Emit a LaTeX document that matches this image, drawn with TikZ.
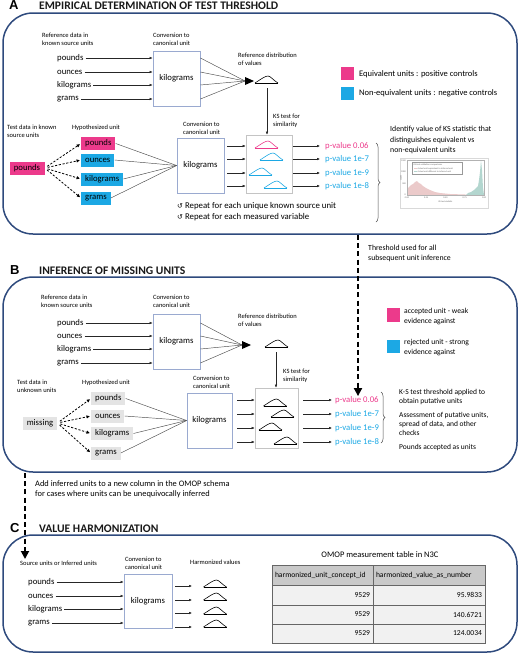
\documentclass[tikz,border=0pt]{standalone}
\usepackage{fontspec}
\setmainfont{Carlito}
\newfontfamily\symfont{DejaVu Sans}
\newfontfamily\arialb{Liberation Sans}
\usetikzlibrary{arrows.meta,decorations.pathreplacing}
\definecolor{navy}{HTML}{2E4A7D}
\definecolor{pinkc}{HTML}{EC3A8B}
\definecolor{cyanc}{HTML}{1CA8E4}
\definecolor{kgb}{HTML}{9AAAD0}
\definecolor{ksb}{HTML}{C4C4C4}
\definecolor{grayf}{HTML}{E4E4E4}
\definecolor{thead}{HTML}{C9C9C9}
\definecolor{trow}{HTML}{F1F1F1}
\definecolor{histpink}{HTML}{EBCACA}
\definecolor{histteal}{HTML}{B3D6CF}
\tikzset{
  dist/.pic={
    \draw[line width=0.6pt] (-11.5,0) -- (11.5,0);
    \draw[line width=0.6pt, line join=round] (-11.5,0) .. controls (-6,-3.5) and (-1.5,-7) .. (1.5,-7) .. controls (4,-7) and (7,-2.5) .. (11.5,0);
  }
}
\begin{document}
\begin{tikzpicture}[x=1pt,y=-1pt,
  panel/.style={draw=navy,line width=1.5pt,rounded corners=30pt},
  ttl/.style={font=\fontsize{11.6}{12}\selectfont\bfseries, anchor=base west, inner sep=0pt, text=black!90},
  letter/.style={font=\fontsize{13}{13}\arialb\bfseries, anchor=base west, inner sep=0pt},
  sm/.style={font=\fontsize{6.5}{8}\selectfont, align=left, anchor=north west, inner sep=0pt},
  unitlbl/.style={font=\fontsize{8.7}{10}\selectfont, anchor=west, inner sep=1pt},
  kgbox/.style={draw=kgb, line width=0.8pt, fill=white, font=\fontsize{8.7}{10}\selectfont, inner sep=0pt},
  ksbox/.style={draw=ksb, line width=0.6pt, fill=white, inner sep=0pt},
  ubox/.style={font=\fontsize{8.7}{10}\selectfont, anchor=west, inner xsep=4pt, inner ysep=0pt, minimum height=13pt},
  arr/.style={-{Latex[length=3pt,width=2.6pt]}, line width=0.45pt, draw=black!85},
  cline/.style={line width=0.45pt, draw=black!70},
  dsh/.style={line width=0.8pt, dash pattern=on 2.2pt off 1.6pt, -{Latex[length=3.5pt,width=3.5pt]}},
  bigdash/.style={line width=1.8pt, dash pattern=on 5pt off 3.2pt, -{Triangle[length=8pt,width=8pt]}},
  pv/.style={font=\fontsize{8.7}{10}\selectfont, anchor=west, inner sep=0pt},
  note/.style={font=\fontsize{7.6}{9.4}\selectfont, align=left, anchor=north west, inner sep=0pt},
  leg/.style={font=\fontsize{8.4}{10}\selectfont, align=left, anchor=north west, inner sep=0pt},
  sq/.style={minimum width=13pt, minimum height=13pt, inner sep=0pt},
  cell/.style={draw=black!60, line width=0.7pt, font=\fontsize{7.6}{9}\selectfont, inner xsep=3pt, inner ysep=0pt},
  tiny/.style={font=\fontsize{2.3}{2.7}\selectfont, inner sep=0pt, text=black!60},
  brc/.style={decorate, decoration={brace, amplitude=4pt}, line width=0.5pt, draw=black!70}
]
\useasboundingbox (0,0) rectangle (520,654);

% ================= PANEL A =================
\draw[panel] (3,13) rectangle (517,234);
\node[letter] (lA) at (9,9.5) {A};
\node[ttl] (tA) at (39,9.5) {EMPIRICAL DETERMINATION OF TEST THRESHOLD};

\node[sm] (refAl) at (42,33) {Reference data in\\known source units};
\node[sm] (cvAl) at (153,33) {Conversion to\\canonical unit};
\node[kgbox, minimum width=47pt, minimum height=55pt] (kgA) at (176.5,78.5) {kilograms};
\node[unitlbl] (pA) at (56,58) {pounds};
\node[unitlbl] (oA) at (56,72) {ounces};
\node[unitlbl] (kA) at (56,85) {kilograms};
\node[unitlbl] (gA) at (56,99) {grams};
\foreach \n in {pA,oA,kA,gA} \draw[arr, shorten <=1pt] (\n.east) -- (\n.east -| kgA.west);
\coordinate (cvA) at (245,81);
\coordinate (tipA) at (254,81);
\foreach \n in {pA,oA,kA,gA} \draw[cline] (kgA.east |- \n.east) -- (cvA);
\fill ([yshift=4pt]cvA) -- (tipA) -- ([yshift=-4pt]cvA) -- cycle;
\pic at (266.5,83) {dist};
\coordinate (rdA) at (267,88);
\node[sm] (rdAl) at (238,53) {Reference distribution\\of values};

\node[ksbox, minimum width=46pt, minimum height=58pt] (ksA) at (269,164) {};
\draw[arr] (rdA) -- (rdA |- ksA.north);
\node[sm] (ksAl) at (273,114) {KS test for\\similarity};
\pic[pinkc] at (266.5,148) {dist};
\pic[cyanc] at (271.5,160) {dist};
\pic[cyanc] at (260.5,175) {dist};
\pic[cyanc] at (275.5,188) {dist};

\node[kgbox, minimum width=47pt, minimum height=55pt] (kgA2) at (200.5,165.5) {kilograms};
\node[sm] (cvA2l) at (183,122) {Conversion to\\canonical unit};

\node[pv, text=pinkc] (pvA1) at (325,146) {p-value 0.06};
\node[pv, text=cyanc] (pvA2) at (325,159) {p-value 1e-7};
\node[pv, text=cyanc] (pvA3) at (325,173) {p-value 1e-9};
\node[pv, text=cyanc] (pvA4) at (325,186) {p-value 1e-8};
\foreach \n in {pvA1,pvA2,pvA3,pvA4} {
  \draw[arr, shorten <=3pt] (kgA2.east |- \n.west) -- (ksA.west |- \n.west);
  \draw[arr, shorten <=1pt, shorten >=5pt] (ksA.east |- \n.west) -- (\n.west);
}
\coordinate (brA1) at (376,143);
\coordinate (brA2) at (376,222);
\draw[brc] (brA1) -- (brA2);
\node[note, font=\fontsize{7.8}{10.5}\selectfont] (idA) at (390,126) {Identify value of KS statistic that\\distinguishes equivalent vs\\non-equivalent units};

% chart
\draw[black!15, fill=white, line width=0.3pt] (400,158) rectangle (488,208);
\fill[histpink] (407,195) -- (407,189) -- (409,187) -- (411,185) -- (413,184) -- (415,182) -- (417,181) -- (419,183) -- (421,184) -- (423,186) -- (426,188) -- (430,190) -- (435,192) -- (440,193) -- (450,194) -- (465,194.5) -- (484,195) -- cycle;
\fill[histteal] (466,195) -- (468,193) -- (471,192) -- (474,190) -- (476,188) -- (478,186) -- (479,180) -- (480,172) -- (481,160.5) -- (482,170) -- (483,188) -- (484,195) -- cycle;
\draw[black!30, line width=0.3pt] (407,160) rectangle (484,195);
\draw[black!40, fill=white, line width=0.2pt] (412,162) rectangle (462,174.5);
\node[tiny, anchor=west] (cht) at (413.5,164.5) {KS-test validation comparisons};
\fill[histpink] (414,167.7) rectangle (416.5,169.3);
\fill[histteal] (414,170.7) rectangle (416.5,172.3);
\node[tiny, anchor=west] (ch1) at (417.5,168.5) {Actual unit equivalent to inferred unit};
\node[tiny, anchor=west] (ch2) at (417.5,171.5) {Actual unit different to inferred unit};
\foreach \x/\t in {407/0.00,426.25/0.25,445.5/0.50,464.75/0.75,484/1.00} \node[tiny] at (\x,197.8) {\t};
\foreach \y/\t in {195/0,183.5/500,172/1000,160.5/1500} \node[tiny, anchor=east] at (406,\y) {\t};
\node[tiny] (chx) at (445.5,202) {KS test statistic};
\node[tiny, rotate=90] (chy) at (401,178) {count};

\node[unitlbl, font=\fontsize{8.8}{10}\selectfont] (rp1) at (176,206) {{\symfont\fontsize{7}{8}\selectfont ↺} Repeat for each unique known source unit};
\node[unitlbl, font=\fontsize{8.8}{10}\selectfont] (rp2) at (176,217) {{\symfont\fontsize{7}{8}\selectfont ↺} Repeat for each measured variable};

\node[sq, fill=pinkc] (lgA1) at (347.5,73.5) {};
\node[leg, anchor=west, font=\fontsize{8.5}{10}\selectfont] (lgA1t) at (359,74) {Equivalent units : positive controls};
\node[sq, fill=cyanc] (lgA2) at (347.5,93.5) {};
\node[leg, anchor=west, font=\fontsize{8.5}{10}\selectfont] (lgA2t) at (359,93) {Non-equivalent units : negative controls};

\node[sm] (tdA) at (7,125) {Test data in known\\source units};
\node[sm] (hyA) at (72,125) {Hypothesized unit};
\node[ubox, fill=pinkc, anchor=center, minimum width=35pt] (tpA) at (27,168) {pounds};
\node[ubox, fill=pinkc] (hpA) at (81,143.5) {pounds};
\node[ubox, fill=cyanc] (hoA) at (81,160) {ounces};
\node[ubox, fill=cyanc] (hkA) at (81,179) {kilograms};
\node[ubox, fill=cyanc] (hgA) at (81,198) {grams};
\foreach \n in {hpA,hoA,hkA,hgA} {
  \draw[dsh, shorten <=3pt, shorten >=1pt] (tpA.east) -- (\n.west);
  \draw[cline] (\n.east) -- (kgA2.west);
}

% ================= PANEL B =================
\draw[panel] (3,277) rectangle (517,472);
\node[letter] (lB) at (10,274) {B};
\node[ttl] (tB) at (39,274) {INFERENCE OF MISSING UNITS};

\node[sm] (refBl) at (41,295) {Reference data in\\known source units};
\node[sm] (cvBl) at (153,295) {Conversion to\\canonical unit};
\node[kgbox, minimum width=47pt, minimum height=55pt] (kgB) at (176.5,341.5) {kilograms};
\node[unitlbl] (pB) at (56,323) {pounds};
\node[unitlbl] (oB) at (56,336) {ounces};
\node[unitlbl] (kB) at (56,349) {kilograms};
\node[unitlbl] (gB) at (56,363) {grams};
\foreach \n in {pB,oB,kB,gB} \draw[arr, shorten <=1pt] (\n.east) -- (\n.east -| kgB.west);
\coordinate (cvB) at (242,345);
\coordinate (tipB) at (251,345);
\foreach \n in {pB,oB,kB,gB} \draw[cline] (kgB.east |- \n.east) -- (cvB);
\fill ([yshift=4pt]cvB) -- (tipB) -- ([yshift=-4pt]cvB) -- cycle;
\pic at (276.5,347) {dist};
\coordinate (rdB) at (276,352);
\node[sm] (rdBl) at (238,314) {Reference distribution\\of values};

\node[ksbox, minimum width=43pt, minimum height=60pt] (ksB) at (276.5,418) {};
\draw[arr] (rdB) -- (rdB |- ksB.north);
\node[sm] (ksBl) at (283,369) {KS test for\\similarity};
\pic at (275,406) {dist};
\pic at (282.5,417) {dist};
\pic at (270.5,430) {dist};
\pic at (285.5,444) {dist};

\node[kgbox, minimum width=45pt, minimum height=55pt] (kgB2) at (209.5,420.5) {kilograms};
\node[sm] (cvB2l) at (193,376) {Conversion to\\canonical unit};

\node[pv, text=pinkc] (pvB1) at (335,400) {p-value 0.06};
\node[pv, text=cyanc] (pvB2) at (335,414) {p-value 1e-7};
\node[pv, text=cyanc] (pvB3) at (335,428) {p-value 1e-9};
\node[pv, text=cyanc] (pvB4) at (335,442) {p-value 1e-8};
\foreach \n in {pvB1,pvB2,pvB3,pvB4} {
  \draw[arr, shorten <=5pt] (kgB2.east |- \n.west) -- (ksB.west |- \n.west);
  \draw[arr, shorten <=5pt, shorten >=3pt] (ksB.east |- \n.west) -- (\n.west);
}
\coordinate (brB1) at (381,392);
\coordinate (brB2) at (381,443);
\draw[brc] (brB1) -- (brB2);
\node[note, font=\fontsize{7.5}{9.2}\selectfont] (nB1) at (399,389) {K-S test threshold applied to\\obtain putative units};
\node[note, font=\fontsize{7.5}{9.2}\selectfont] (nB2) at (399,412) {Assessment of putative units,\\spread of data, and other\\checks};
\node[note, font=\fontsize{7.5}{9.2}\selectfont] (nB3) at (399,444) {Pounds accepted as units};

\node[sq, fill=pinkc, minimum height=14pt] (lgB1) at (393.5,314.5) {};
\node[leg, font=\fontsize{7.6}{10}\selectfont] (lgB1t) at (404,308) {accepted unit - weak\\evidence against};
\node[sq, fill=cyanc] (lgB2) at (393.5,346.5) {};
\node[leg, font=\fontsize{7.6}{10}\selectfont] (lgB2t) at (404,339) {rejected unit - strong\\evidence against};

\node[sm] (tdB) at (17,380) {Test data in\\unknown units};
\node[sm] (hyB) at (82,380) {Hypothesized unit};
\node[ubox, fill=grayf, anchor=center, minimum width=33pt] (miss) at (40,423) {missing};
\node[ubox, fill=grayf] (hpB) at (91,398.5) {pounds};
\node[ubox, fill=grayf] (hoB) at (91,416) {ounces};
\node[ubox, fill=grayf] (hkB) at (91,433.5) {kilograms};
\node[ubox, fill=grayf] (hgB) at (91,453) {grams};
\foreach \n in {hpB,hoB,hkB,hgB} {
  \draw[dsh, shorten <=3pt, shorten >=1pt] (miss.east) -- (\n.west);
  \draw[cline] (\n.east) -- (kgB2.west);
}

% threshold dashed arrow A -> B
\coordinate (thA) at (358,235);
\draw[bigdash] (thA) -- (thA |- pvB1.north);
\node[note, font=\fontsize{7.8}{10}\selectfont] (thT) at (368,245) {Threshold used for all\\subsequent unit inference};

% ================= PANEL C =================
\draw[panel] (3,535) rectangle (517,652);
\node[letter] (lC) at (10,532) {C};
\node[ttl] (tC) at (39,532) {VALUE HARMONIZATION};

\coordinate (thB) at (25,473);
\coordinate (thC) at (25,559);
\draw[bigdash] (thB) -- (thC);
\node[leg, font=\fontsize{8.4}{10}\selectfont] (addT) at (35,480) {Add inferred units to a new column in the OMOP schema\\for cases where units can be unequivocally inferred};

\node[sm] (srcC) at (20,561) {Source units or Inferred units};
\node[sm] (cvCl) at (125,557) {Conversion to\\canonical unit};
\node[sm] (hvC) at (190,560) {Harmonized values};
\node[kgbox, minimum width=48pt, minimum height=54pt] (kgC) at (148,601) {kilograms};
\node[unitlbl] (pC) at (27,582) {pounds};
\node[unitlbl] (oC) at (27,596) {ounces};
\node[unitlbl] (kC) at (27,609) {kilograms};
\node[unitlbl] (gC) at (27,623) {grams};
\foreach \n in {pC,oC,kC,gC} \draw[arr, shorten <=1pt] (\n.east) -- (\n.east -| kgC.west);
\coordinate (hv1) at (192,586);
\coordinate (hv2) at (192,600);
\coordinate (hv3) at (192,613);
\coordinate (hv4) at (192,627);
\foreach \n in {hv1,hv2,hv3,hv4} \draw[arr, shorten <=3pt] (kgC.east |- \n) -- (\n);
\pic at (215,587) {dist};
\pic at (215,600) {dist};
\pic at (215,614) {dist};
\pic at (215,627) {dist};

\node[font=\fontsize{8.5}{10}\selectfont, inner sep=0pt] (tbt) at (380,555) {OMOP measurement table in N3C};
\node[cell, fill=thead, minimum width=101pt, minimum height=20pt, text width=95pt, align=left] (h1) at (322.5,575) {harmonized\_unit\_concept\_id};
\node[cell, fill=thead, minimum width=112pt, minimum height=20pt, text width=106pt, align=left] (h2) at (429,575) {harmonized\_value\_as\_number};
\node[cell, fill=trow, minimum width=101pt, minimum height=20pt, text width=95pt, align=right] (r11) at (322.5,595) {9529};
\node[cell, fill=trow, minimum width=112pt, minimum height=20pt, text width=106pt, align=right] (r12) at (429,595) {95.9833};
\node[cell, fill=trow, minimum width=101pt, minimum height=19pt, text width=95pt, align=right] (r21) at (322.5,614.5) {9529};
\node[cell, fill=trow, minimum width=112pt, minimum height=19pt, text width=106pt, align=right] (r22) at (429,614.5) {140.6721};
\node[cell, fill=trow, minimum width=101pt, minimum height=19pt, text width=95pt, align=right] (r31) at (322.5,633.5) {9529};
\node[cell, fill=trow, minimum width=112pt, minimum height=19pt, text width=106pt, align=right] (r32) at (429,633.5) {124.0034};
\end{tikzpicture}
\end{document}
